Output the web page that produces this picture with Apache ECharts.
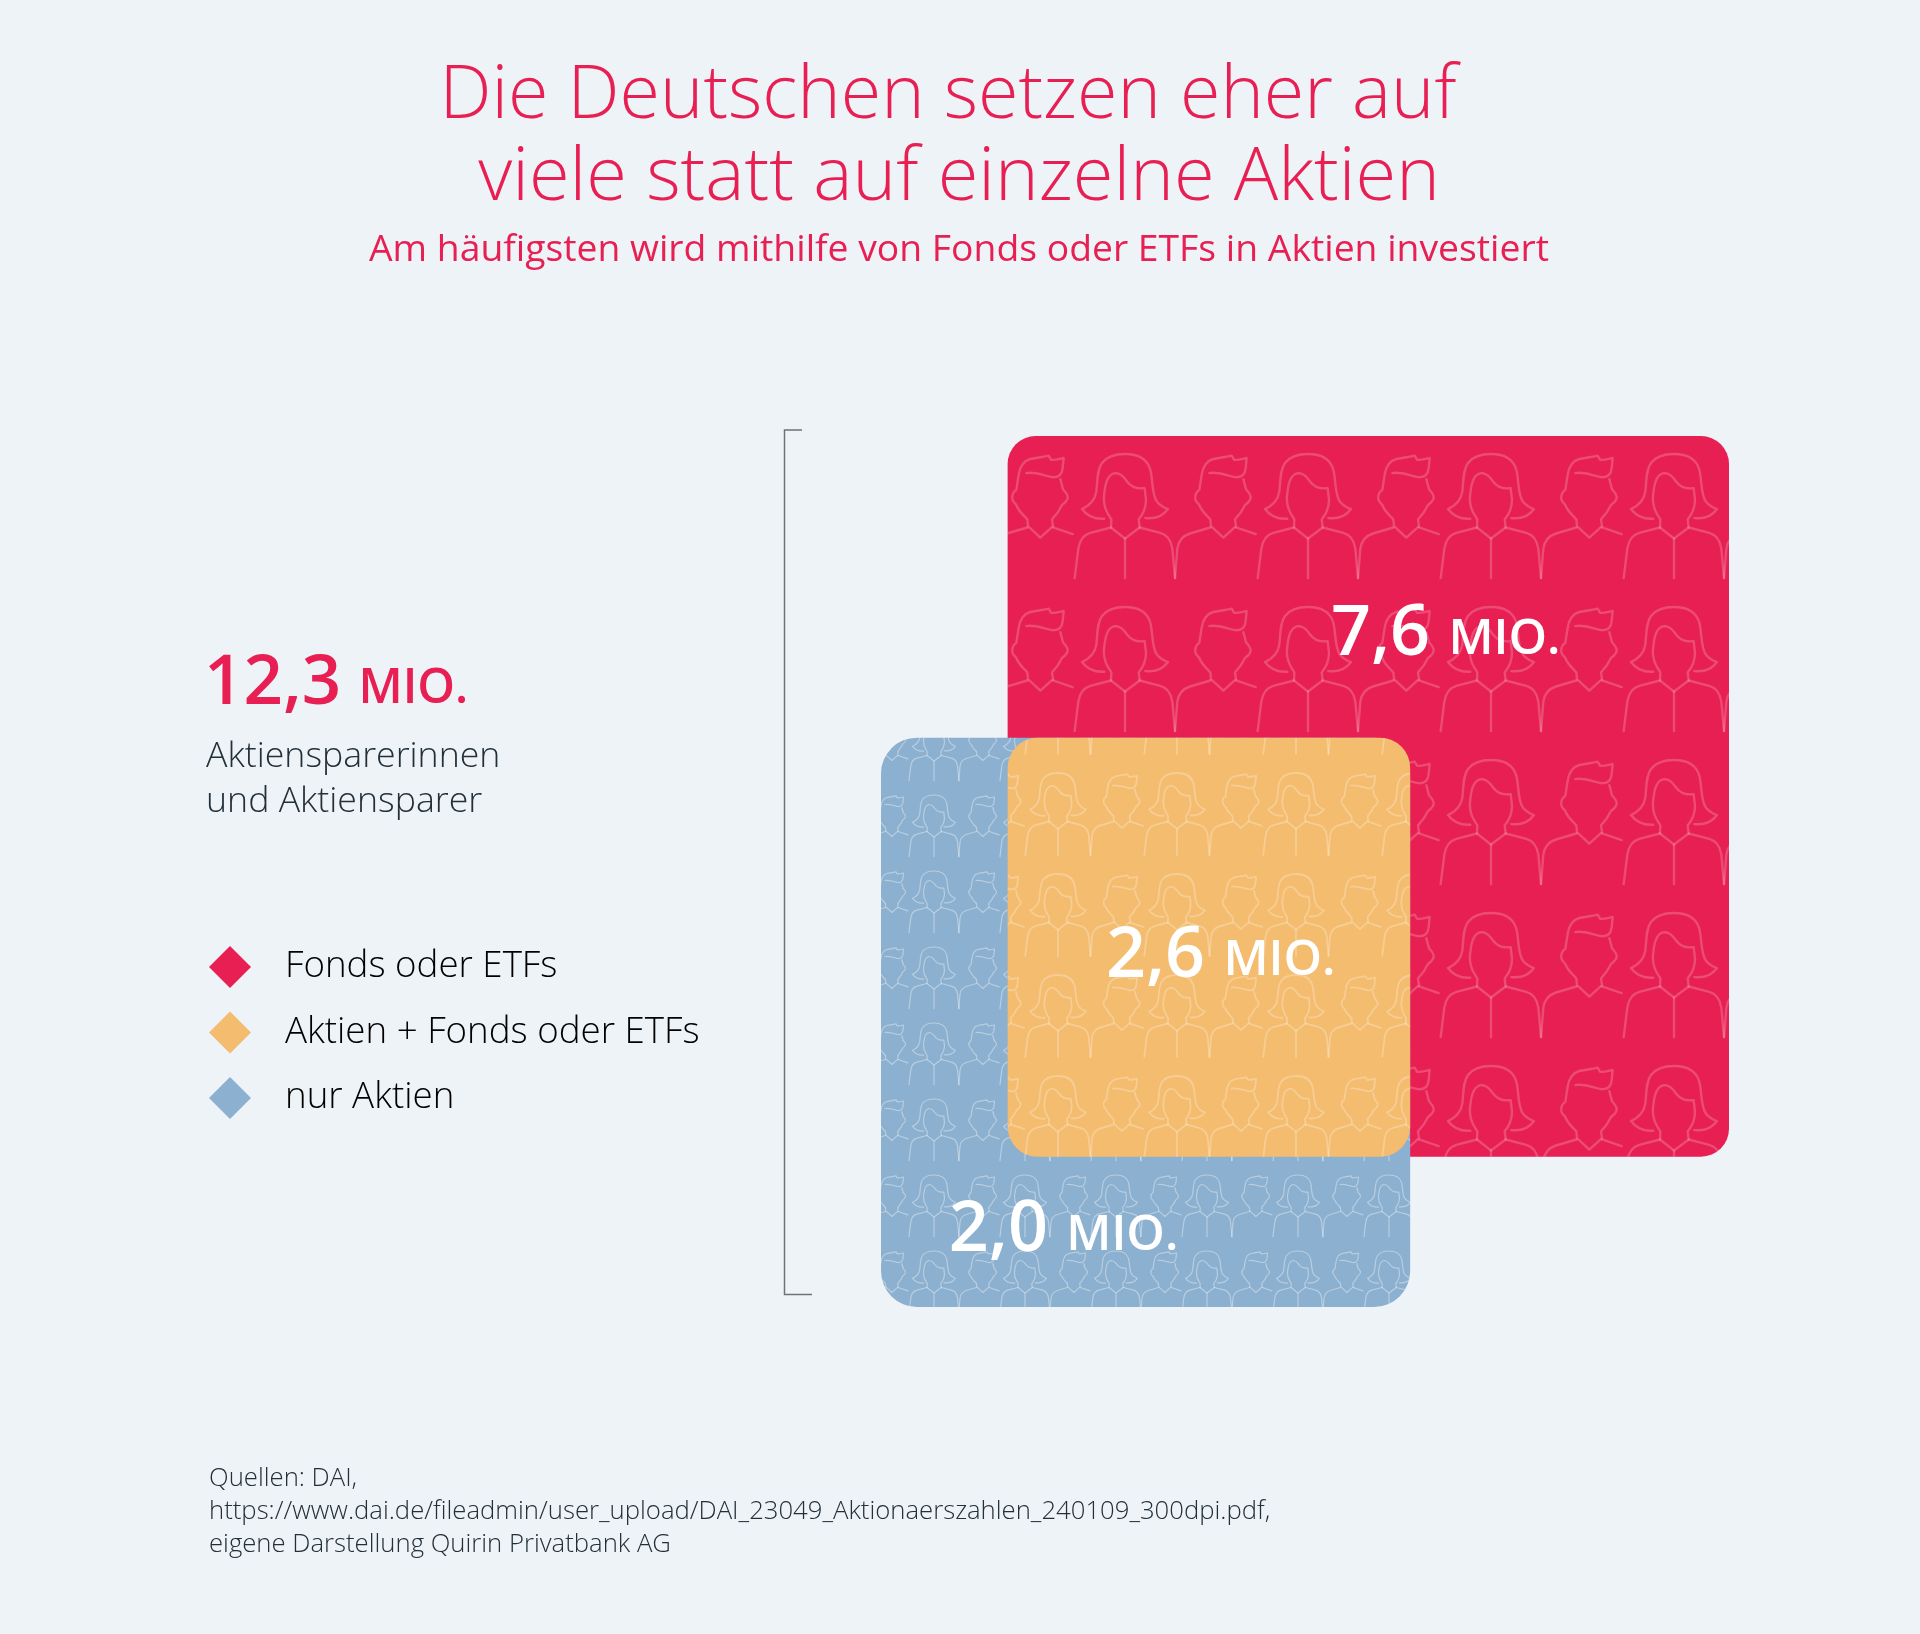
<!DOCTYPE html>
<html>
<head>
<meta charset="utf-8">
<style>html,body{margin:0;padding:0;background:#eef3f7}#main{width:1920px;height:1634px}</style>
<script src="https://cdn.jsdelivr.net/npm/echarts@6/dist/echarts.min.js"></script>
</head>
<body>
<div id="main"></div>
<script>
// kategorien und werte (mio.)
var categories = ['Fonds oder ETFs', 'Aktien + Fonds oder ETFs', 'nur Aktien'];
var values = ['7,6', '2,6', '2,0'];
var boxLeft = [0.56, 0.56, 0];
var boxRight = [3.75, 2.34, 2.34];
var boxBottom = [0.665, 0.665, 0];
var boxTop = [3.855, 2.52, 2.52];
var colors = ['#e81f53', '#f4bc6f', '#8cb0cf'];

var FONT = 'Open Sans';

// muster: frau + mann als kachel
var manPaths = [
    'M138 160 C165 155 190 168 215 172 C235 174 245 165 247 145 L250 115 C235 118 220 122 212 120 L205 108 C190 112 170 113 150 118 C125 125 118 145 115 165 L108 210 C98 215 94 228 96 238 C98 248 105 250 108 255 C115 275 130 285 141 298 L143 318 L180 352 L218 318 L215 298 C230 283 238 270 245 255 C255 248 263 240 262 230 C261 220 252 213 248 208 L240 178',
    'M141 322 L80 340 C55 348 45 365 42 385 L35 473',
    'M218 322 L277 342'
];
var womanPaths = [
    'M372 296 C340 298 318 285 305 267 C325 258 343 245 348 215 C352 180 350 150 365 130 C385 103 420 103 434 103 C470 103 500 115 510 150 C518 180 514 225 530 245 C540 257 552 263 563 267 C550 285 530 298 495 294',
    'M490 205 C465 208 450 198 440 185 C430 170 420 160 405 160 C385 162 375 185 372 220 C368 245 372 265 385 285 L393 298 L392 322 L434 355 L478 322 L475 298 C490 280 497 265 497 240 L493 205',
    'M392 322 L330 338 C305 345 297 365 294 385 L283 473',
    'M478 322 L540 338 C565 345 573 365 576 385 L584 473',
    'M434 355 L434 473'
];

function makeTile(w, h, lw, stroke) {
    var c = document.createElement('canvas');
    c.width = w;
    c.height = h;
    var ctx = c.getContext('2d');
    var kx = w / 549, ky = (h / 456);
    ctx.strokeStyle = stroke;
    ctx.lineCap = 'round';
    ctx.lineJoin = 'round';
    for (var i = -1; i <= 1; i++) {
        ctx.save();
        ctx.translate(i * w, 2);
        ctx.scale(kx, ky);
        ctx.translate(-434, -103);
        ctx.lineWidth = lw / kx;
        manPaths.concat(womanPaths).forEach(function (d) {
            ctx.stroke(new Path2D(d));
        });
        ctx.restore();
    }
    return c;
}

// muster je flaeche, x/y = mitte und oberkante der ersten frau
var patterns = [
    { image: makeTile(183, 153, 2.4, 'rgba(255,255,255,0.2)'), repeat: 'repeat', x: 1125, y: 452 },
    { image: makeTile(119, 101, 1.8, 'rgba(255,255,255,0.26)'), repeat: 'repeat', x: 1058, y: 771 },
    { image: makeTile(91, 76, 1.2, 'rgba(255,255,255,0.38)'), repeat: 'repeat', x: 934, y: 793 }
];
var radii = [28, 30, 36];
// wo die beschriftung sitzt, in achsen-einheiten
var labelX = [1.99, 0.995, 0.3];
var labelY = [2.973, 1.549, 0.336];

function boxSeries(i) {
    return {
        name: categories[i],
        type: 'custom',
        coordinateSystem: 'cartesian2d',
        clip: false,
        silent: true,
        itemStyle: { color: colors[i] },
        data: [[boxLeft[i], boxRight[i], boxBottom[i], boxTop[i]]],
        renderItem: function (params, api) {
            var p0 = api.coord([api.value(0), api.value(3)]);
            var p1 = api.coord([api.value(1), api.value(2)]);
            var shape = { x: p0[0], y: p0[1], width: p1[0] - p0[0], height: p1[1] - p0[1], r: radii[i] };
            var lp = api.coord([labelX[i], labelY[i]]);
            return {
                type: 'group',
                children: [
                    { type: 'rect', shape: shape, style: { fill: colors[i] } },
                    { type: 'rect', shape: shape, style: { fill: patterns[i] } },
                    {
                        type: 'text',
                        z2: 10,
                        style: {
                            x: lp[0],
                            y: lp[1],
                            verticalAlign: 'middle',
                            text: '{v|' + values[i] + '} {u|MIO.}',
                            rich: {
                                v: { fontFamily: FONT, fontSize: 70, fontWeight: 600, fill: '#fff', color: '#fff' },
                                u: { fontFamily: FONT, fontSize: 49, fontWeight: 600, fill: '#fff', color: '#fff', padding: [9, 0, 0, 15] }
                            }
                        }
                    }
                ]
            };
        }
    };
}

var chart = echarts.init(document.getElementById('main'), null, { renderer: 'canvas' });
chart.setOption({
    animation: false,
    backgroundColor: '#eef3f7',
    title: [
        {
            text: 'Die Deutschen setzen eher auf',
            left: 943, top: 55, textAlign: 'center',
            textStyle: { fontFamily: FONT, fontSize: 73.6, fontWeight: 300, color: '#e81f53' }
        },
        {
            text: 'viele statt auf einzelne Aktien',
            left: 954, top: 137, textAlign: 'center',
            textStyle: { fontFamily: FONT, fontSize: 74, fontWeight: 300, color: '#e81f53' }
        },
        {
            text: 'Am häufigsten wird mithilfe von Fonds oder ETFs in Aktien investiert',
            left: 954, top: 227, textAlign: 'center',
            textStyle: { fontFamily: FONT, fontSize: 37.3, fontWeight: 400, color: '#e81f53' }
        }
    ],
    grid: { left: 881, right: 191, top: 436, bottom: 327 },
    xAxis: { type: 'value', min: 0, max: 3.75, show: false },
    yAxis: { type: 'value', min: 0, max: 3.855, show: false },
    legend: {
        orient: 'vertical',
        left: 204, top: 941,
        itemWidth: 42, itemHeight: 42, itemGap: 23.5,
        icon: 'diamond',
        selectedMode: false,
        data: categories,
        textStyle: { fontFamily: FONT, fontSize: 36.7, fontWeight: 300, color: '#000', padding: [0, 0, 0, 29] }
    },
    series: [boxSeries(0), boxSeries(2), boxSeries(1)],
    graphic: [
        {
            type: 'polyline', silent: true,
            shape: { points: [[802, 430], [784.5, 430], [784.5, 1294.5], [812, 1294.5]] },
            style: { stroke: '#6b7377', lineWidth: 1.5, fill: null }
        },
        {
            type: 'text', left: 204, top: 650,
            style: {
                text: '{v|12,3} {u|MIO.}',
                rich: {
                    v: { fontFamily: FONT, fontSize: 69, fontWeight: 600, fill: '#e81f53' },
                    u: { fontFamily: FONT, fontSize: 48, fontWeight: 600, fill: '#e81f53', padding: [9, 0, 0, 14] }
                }
            }
        },
        {
            type: 'text', left: 206, top: 734,
            style: { text: 'Aktiensparerinnen\nund Aktiensparer', fontFamily: FONT, fontSize: 35.7, fontWeight: 300, lineHeight: 45, fill: '#22303a' }
        },
        {
            type: 'text', left: 209, top: 1462,
            style: {
                text: 'Quellen: DAI,\nhttps://www.dai.de/fileadmin/user_upload/DAI_23049_Aktionaerszahlen_240109_300dpi.pdf,\neigene Darstellung Quirin Privatbank AG',
                fontFamily: FONT, fontSize: 25.7, fontWeight: 300, lineHeight: 33, fill: '#22303a'
            }
        }
    ]
});
</script>
</body>
</html>
